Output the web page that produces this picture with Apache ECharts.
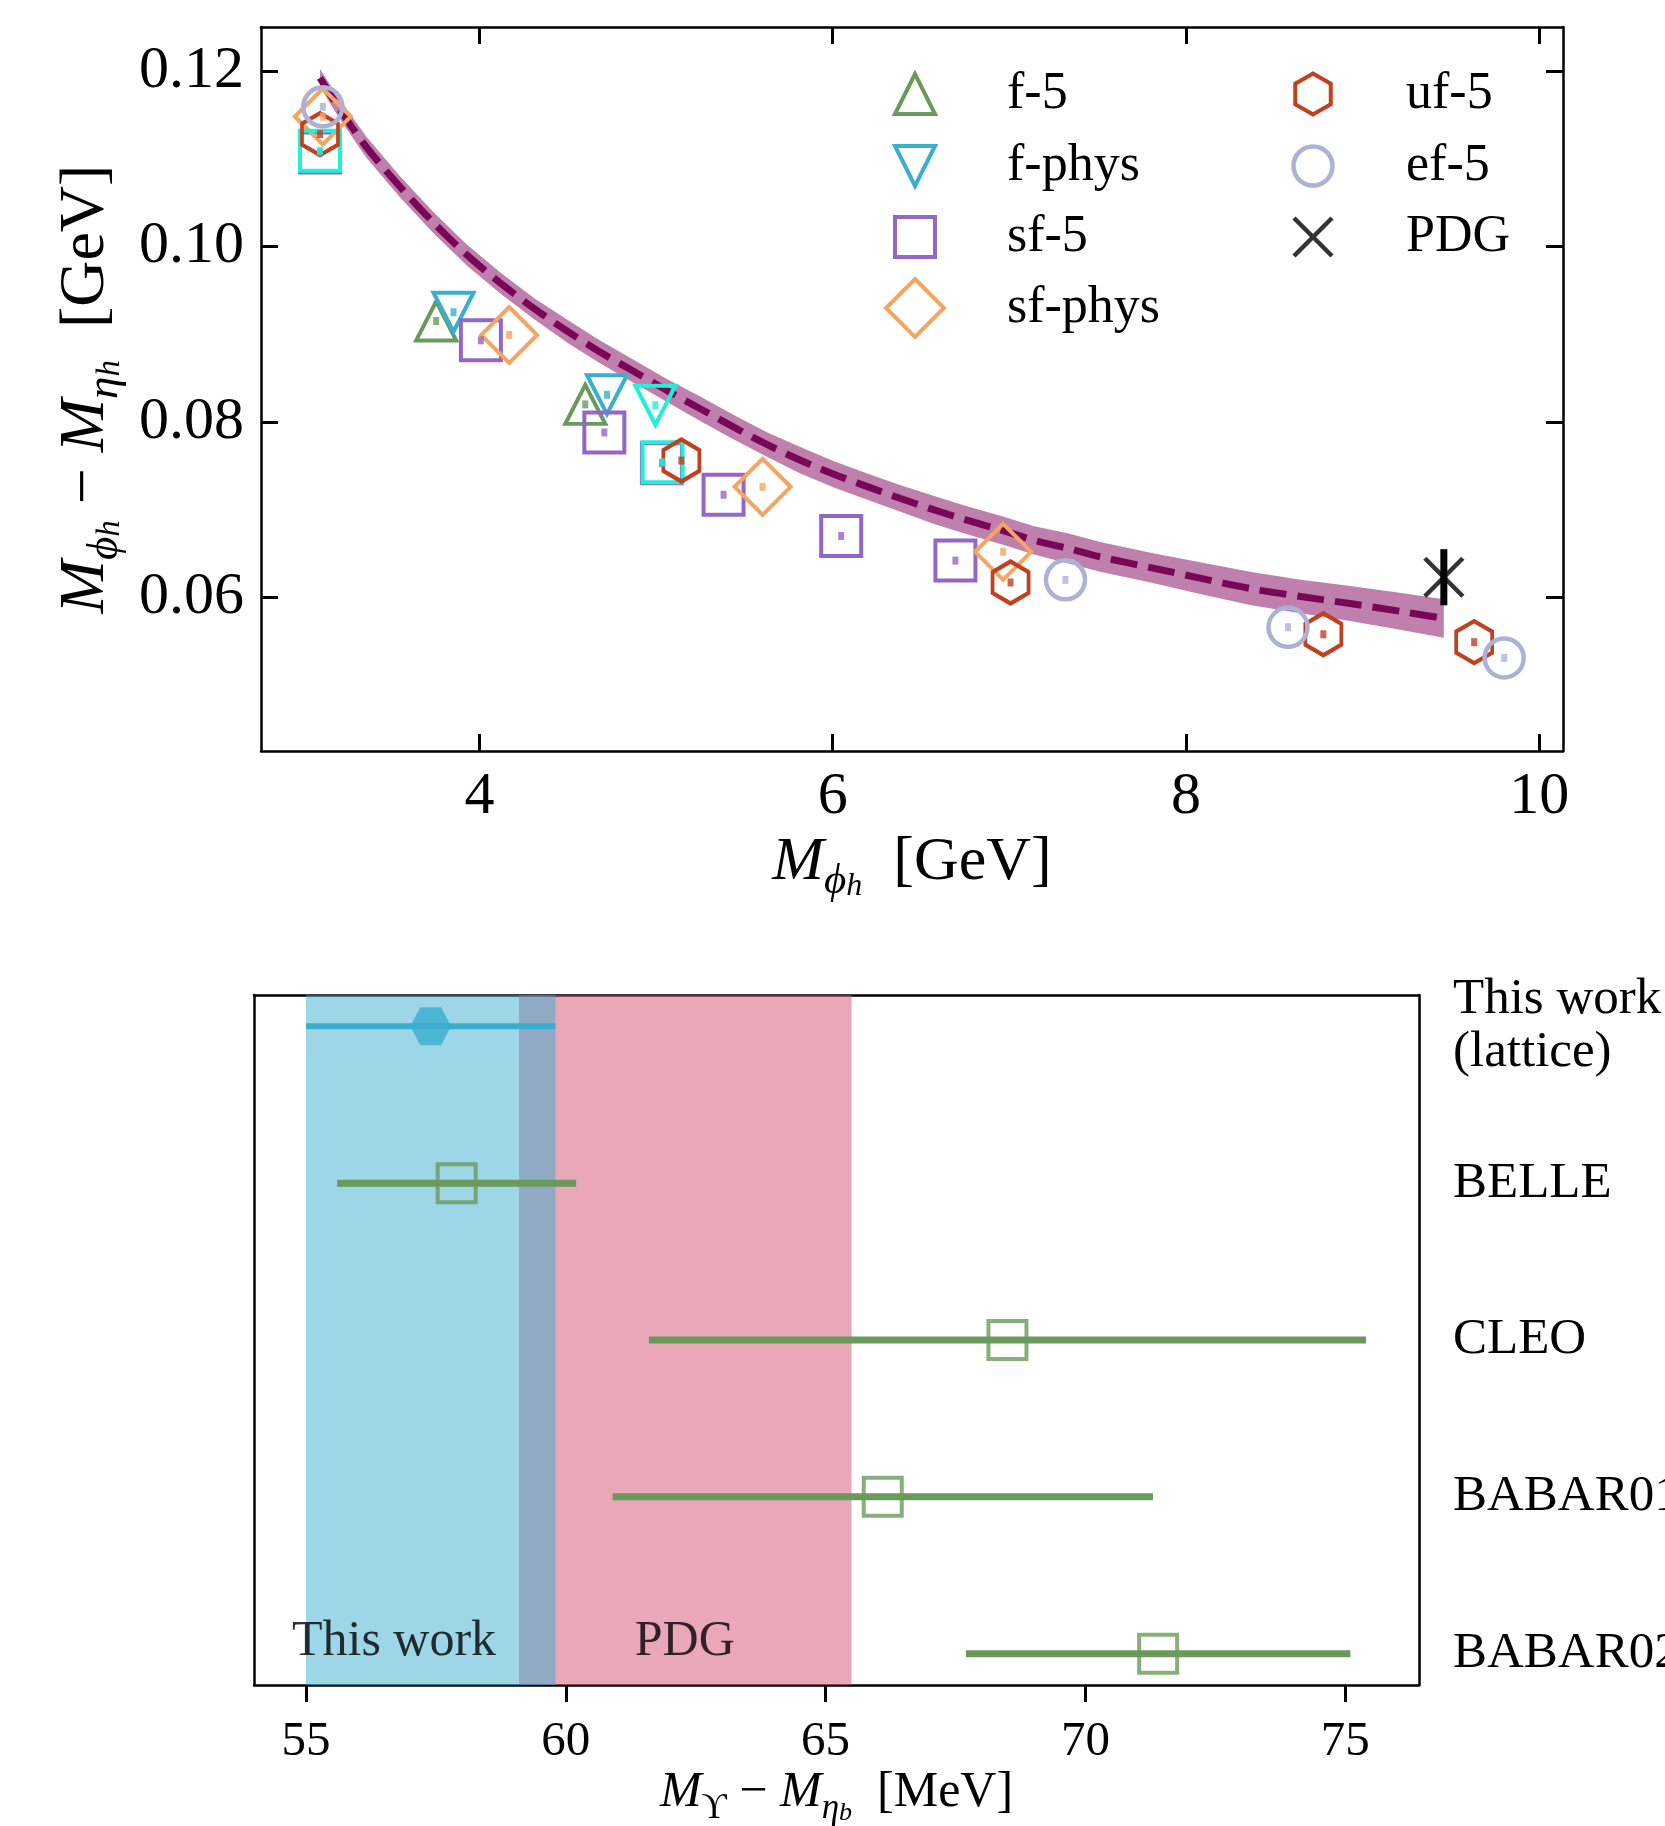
<!DOCTYPE html>
<html><head><meta charset="utf-8">
<script src="https://cdn.jsdelivr.net/npm/echarts@6/dist/echarts.min.js"></script>
<style>html,body{margin:0;padding:0;background:#fff}#c{width:1665px;height:1826px}</style>
</head><body><div id="c"></div>
<script>
// ---------------- data: top panel (GeV) ----------------
const f5      = [[3.755, 0.0915], [4.599, 0.0820]];
const fPhys   = [[3.853, 0.0925], [4.722, 0.0831]];
const sf5     = [[3.097, 0.1107], [4.008, 0.0893], [4.707, 0.0788], [5.033, 0.0753], [5.382, 0.0717], [6.048, 0.0670], [6.695, 0.0642]];
const sfPhys  = [[3.113, 0.1148], [4.168, 0.0899], [5.603, 0.0726], [6.965, 0.0652]];
const uf5     = [[3.097, 0.1128], [5.143, 0.0756], [7.007, 0.0617], [8.778, 0.0558], [9.632, 0.0549]];
const ef5     = [[3.113, 0.1159], [7.318, 0.0620], [8.578, 0.0566], [9.802, 0.0531]];
const sfExtra = [[3.097, 0.1109], [5.037, 0.0754]];
const fExtra  = [[4.996, 0.0819]];
const pdgPt   = [[9.4603, 0.0623]];
const pdgErr  = [0.0032];
const fitX   = [3.097, 3.2, 3.36, 3.55, 3.74, 3.93, 4.12, 4.31, 4.50, 4.68, 4.87, 5.06, 5.25, 5.44, 5.63, 5.82, 6.01, 6.20, 6.38, 6.57, 6.76, 6.95, 7.14, 7.33, 7.52, 7.80, 8.08, 8.37, 8.65, 8.93, 9.22, 9.46];
const fitY   = [0.1192, 0.1159, 0.1113, 0.1068, 0.1027, 0.0990, 0.0958, 0.0929, 0.0903, 0.0880, 0.0858, 0.0836, 0.0815, 0.0794, 0.0774, 0.0756, 0.0740, 0.0726, 0.0713, 0.0700, 0.0688, 0.0677, 0.0665, 0.0656, 0.0646, 0.0634, 0.0622, 0.0610, 0.0601, 0.0593, 0.0584, 0.0576];
const fitErr = [0.0010, 0.0011, 0.0012, 0.0012, 0.0012, 0.0012, 0.0012, 0.0012, 0.0013, 0.0013, 0.0013, 0.0013, 0.0014, 0.0014, 0.0014, 0.0015, 0.0015, 0.0015, 0.0015, 0.0016, 0.0016, 0.0016, 0.0016, 0.0017, 0.0017, 0.0017, 0.0018, 0.0019, 0.0019, 0.0020, 0.0021, 0.0022];
const topXTicks = [4, 6, 8, 10];
const topYTicks = [0.06, 0.08, 0.10, 0.12];

// ---------------- data: bottom panel (MeV) ----------------
const expNames   = ['This work\n(lattice)', 'BELLE', 'CLEO', 'BABAR01', 'BABAR02'];
const expCentral = [57.4, 57.9, 68.5, 66.1, 71.4];
const expLow     = [55.0, 55.6, 61.6, 60.9, 67.7];
const expHigh    = [59.8, 60.2, 75.4, 71.3, 75.1];
const thisWorkBand = [55.0, 59.8];
const pdgBand      = [59.1, 65.5];
const bottomXTicks = [55, 60, 65, 70, 75];

// ---------------- styling ----------------
const FONT = "'Liberation Serif', 'DejaVu Serif', serif";
const SYM = {
  triUp:   'path://M0,2 L1,0 L2,2 Z',
  triDown: 'path://M0,0 L2,0 L1,2 Z',
  square:  'path://M0,0 L1,0 L1,1 L0,1 Z',
  diamond: 'path://M1,0 L2,1 L1,2 L0,1 Z',
  hex:     'path://M0.866,0 L1.732,0.5 L1.732,1.5 L0.866,2 L0,1.5 L0,0.5 Z',
  hexFlat: 'path://M0.5,0 L1.5,0 L2,0.866 L1.5,1.732 L0.5,1.732 L0,0.866 Z',
  cross:   'path://M0,0 L2,2 M2,0 L0,2'
};
const topSeriesDefs = [
  {name: 'f-5',     data: f5,      color: '#6a9a5b', symbol: SYM.triUp,   size: [40, 39]},
  {name: 'f-phys',  data: fPhys,   color: '#3aaecf', symbol: SYM.triDown, size: [40, 39]},
  {name: 'sf-5',    data: sf5,     color: '#9467c6', symbol: SYM.square,  size: [40, 40]},
  {name: 'sf-phys', data: sfPhys,  color: '#f5a562', symbol: SYM.diamond, size: [56, 56]},
  {name: 'sf-5 b',  data: sfExtra, color: '#22f0d6', symbol: SYM.square,  size: [40, 40]},
  {name: 'f-phys b',data: fExtra,  color: '#22f0d6', symbol: SYM.triDown, size: [40, 39]},
  {name: 'uf-5',    data: uf5,     color: '#c0401f', symbol: SYM.hex,     size: [36, 42]},
  {name: 'ef-5',    data: ef5,     color: '#abb2d6', symbol: 'circle',    size: [39, 39]}
];

function rich(fs) {
  const s = Math.round(fs * 0.7), ss = Math.round(fs * 0.52);
  return {
    m:  {fontSize: fs, fontStyle: 'italic', fontFamily: FONT, verticalAlign: 'top', lineHeight: fs, color: '#000'},
    n:  {fontSize: fs, fontFamily: FONT, verticalAlign: 'top', lineHeight: fs, color: '#000'},
    s:  {fontSize: s, fontStyle: 'italic', fontFamily: FONT, verticalAlign: 'top', lineHeight: s, padding: [Math.round(fs * 0.45), 0, 0, 0], color: '#000'},
    u:  {fontSize: s, fontFamily: FONT, verticalAlign: 'top', lineHeight: s, padding: [Math.round(fs * 0.45), 0, 0, 0], color: '#000'},
    ss: {fontSize: ss, fontStyle: 'italic', fontFamily: FONT, verticalAlign: 'top', lineHeight: ss, padding: [Math.round(fs * 0.63), 0, 0, 0], color: '#000'}
  };
}

const series = [];
// fit band
series.push({
  type: 'custom', xAxisIndex: 0, yAxisIndex: 0, z: 1, silent: true,
  data: fitX.map((x, i) => [x, fitY[i]]),
  renderItem: function (params, api) {
    if (params.dataIndex !== 0) return null;
    const up = fitX.map((x, i) => api.coord([x, fitY[i] + fitErr[i]]));
    const lo = fitX.map((x, i) => api.coord([x, fitY[i] - fitErr[i]])).reverse();
    return {type: 'polygon', shape: {points: up.concat(lo)}, style: {fill: '#bf80ad'}};
  }
});
series.push({
  type: 'line', xAxisIndex: 0, yAxisIndex: 0, z: 2, silent: true, showSymbol: false, symbol: 'none', smooth: 0.3,
  data: fitX.map((x, i) => [x, fitY[i]]),
  lineStyle: {color: '#7a0657', width: 7, type: [27, 11]}
});
topSeriesDefs.forEach(d => {
  series.push({
    name: d.name, type: 'scatter', xAxisIndex: 0, yAxisIndex: 0, z: 3, silent: true,
    symbol: d.symbol, symbolSize: d.size, data: d.data,
    itemStyle: {color: 'rgba(0,0,0,0)', borderColor: d.color, borderWidth: d.symbol === 'circle' ? 4.5 : 4, opacity: 1}
  });
  series.push({
    name: d.name + ' pt', type: 'scatter', xAxisIndex: 0, yAxisIndex: 0, z: 4, silent: true,
    symbol: 'rect', symbolSize: [6, 8], data: d.data, itemStyle: {color: d.color}
  });
});
// PDG
series.push({
  type: 'custom', xAxisIndex: 0, yAxisIndex: 0, z: 5, silent: true,
  data: pdgPt.map((p, i) => [p[0], p[1] - pdgErr[i], p[1] + pdgErr[i]]),
  renderItem: function (params, api) {
    const a = api.coord([api.value(0), api.value(1)]);
    const b = api.coord([api.value(0), api.value(2)]);
    return {type: 'line', shape: {x1: a[0], y1: a[1], x2: b[0], y2: b[1]}, style: {stroke: '#000', lineWidth: 7}};
  }
});
series.push({
  name: 'PDG', type: 'scatter', xAxisIndex: 0, yAxisIndex: 0, z: 6, silent: true,
  symbol: SYM.cross, symbolSize: [38, 38], data: pdgPt,
  itemStyle: {color: 'rgba(0,0,0,0)', borderColor: '#000', borderWidth: 4.5}
});

// ---- bottom panel ----
series.push({
  type: 'custom', xAxisIndex: 2, yAxisIndex: 2, z: 1, silent: true,
  data: [pdgBand, thisWorkBand],
  renderItem: function (params, api) {
    const cs = params.coordSys;
    const x0 = api.coord([api.value(0), 0])[0];
    const x1 = api.coord([api.value(1), 0])[0];
    const fills = ['rgba(211,79,113,0.5)', 'rgba(58,174,207,0.5)'];
    return {type: 'rect', shape: {x: x0, y: cs.y, width: x1 - x0, height: cs.height}, style: {fill: fills[params.dataIndex]}};
  }
});
series.push({
  type: 'custom', xAxisIndex: 2, yAxisIndex: 2, z: 3, silent: true,
  data: expNames.map((n, i) => [expLow[i], expHigh[i], i]),
  renderItem: function (params, api) {
    const a = api.coord([api.value(0), api.value(2)]);
    const b = api.coord([api.value(1), api.value(2)]);
    const c = params.dataIndex === 0 ? '#3aaecf' : '#6a9a5b';
    return {type: 'line', shape: {x1: a[0], y1: a[1], x2: b[0], y2: b[1]}, style: {stroke: c, lineWidth: params.dataIndex === 0 ? 6 : 7}};
  }
});
series.push({
  type: 'scatter', xAxisIndex: 2, yAxisIndex: 2, z: 4, silent: true,
  symbol: SYM.hexFlat, symbolSize: [41, 38],
  data: [[expCentral[0], 0]], itemStyle: {color: '#3aaecf'}
});
series.push({
  type: 'scatter', xAxisIndex: 2, yAxisIndex: 2, z: 4, silent: true,
  symbol: SYM.square, symbolSize: [38, 38],
  data: expCentral.slice(1).map((v, i) => [v, i + 1]),
  itemStyle: {color: 'rgba(0,0,0,0)', borderColor: '#6a9a5b', borderWidth: 4}
});
series.push({
  type: 'scatter', xAxisIndex: 2, yAxisIndex: 2, z: 5, silent: true, symbolSize: 1,
  itemStyle: {color: 'rgba(0,0,0,0)'},
  label: {show: true, position: [0, 0], verticalAlign: 'middle', fontFamily: FONT, fontSize: 50, color: '#000'},
  data: [
    {value: [54.74, 3.93], label: {formatter: 'This work', align: 'left'}},
    {value: [62.3, 3.93], label: {formatter: 'PDG', align: 'center'}}
  ]
});

// ---- legends ----
// iw: drawn icon width incl. stroke (legend boxes are placed by their drawn bounds)
const legendSpec = [
  {name: 'f-5',     cx: 915,  cy: 90,  h: 40, iw: 44},
  {name: 'f-phys',  cx: 915,  cy: 162, h: 40, iw: 44},
  {name: 'sf-5',    cx: 915,  cy: 233, h: 40, iw: 44},
  {name: 'sf-phys', cx: 915,  cy: 304, h: 58, iw: 62},
  {name: 'uf-5',    cx: 1313, cy: 90,  h: 41, iw: 39.5},
  {name: 'ef-5',    cx: 1313, cy: 162, h: 39, iw: 43.5},
  {name: 'PDG',     cx: 1313, cy: 233, h: 38, iw: 42.5}
];
const legends = legendSpec.map(l => {
  const textLeft = l.cx < 1000 ? 1007 : 1406;
  const W = 2 * (textLeft - 5 - l.cx);
  const bw = l.name === 'PDG' || l.name === 'ef-5' ? 4.5 : 4;
  return {
    data: [l.name], left: l.cx - l.iw / 2, top: l.cy - 28,
    itemWidth: W, itemHeight: l.h, padding: 0, itemGap: 0, selectedMode: false,
    symbolKeepAspect: true,
    itemStyle: {borderWidth: bw},
    textStyle: {fontFamily: FONT, fontSize: 52, lineHeight: 52, color: '#000', padding: [12, 0, 0, 0]}
  };
});

const axLine = {show: true, onZero: false, lineStyle: {color: '#000', width: 2.5}};
const option = {
  animation: false,
  backgroundColor: '#fff',
  legend: legends,
  grid: [
    {left: 261, right: 102, top: 27, bottom: 1075, containLabel: false, outerBoundsMode: 'none'},
    {left: 254, right: 246, top: 995, bottom: 141, containLabel: false, outerBoundsMode: 'none'}
  ],
  xAxis: [
    {gridIndex: 0, type: 'value', min: 2.763, max: 10.135, position: 'bottom',
     axisLine: axLine, splitLine: {show: false},
     axisTick: {show: true, inside: true, length: 17, lineStyle: {width: 3, color: '#000'}, customValues: topXTicks},
     axisLabel: {show: true, customValues: topXTicks, formatter: v => String(v), fontFamily: FONT, fontSize: 60, color: '#000', margin: 16},
     name: '{m|M}{s|ϕ}{ss|h}{n|  [GeV]}', nameLocation: 'middle', nameGap: 81,
     nameTextStyle: {rich: rich(62)}},
    {gridIndex: 0, type: 'value', min: 2.763, max: 10.135, position: 'top',
     axisLine: axLine, splitLine: {show: false},
     axisTick: {show: true, inside: true, length: 17, lineStyle: {width: 3, color: '#000'}, customValues: topXTicks},
     axisLabel: {show: false}},
    {gridIndex: 1, type: 'value', min: 54.0, max: 76.42, position: 'bottom',
     axisLine: axLine, splitLine: {show: false},
     axisTick: {show: true, inside: false, length: 17, lineStyle: {width: 3, color: '#000'}, customValues: bottomXTicks},
     axisLabel: {show: true, customValues: bottomXTicks, formatter: v => String(v), fontFamily: FONT, fontSize: 49, color: '#000', margin: 33},
     name: '{m|M}{u|ϒ}{n| − }{m|M}{s|η}{ss|b}{n|  [MeV]}', nameLocation: 'middle', nameGap: 83,
     nameTextStyle: {rich: rich(50)}},
    {gridIndex: 1, type: 'value', min: 54.0, max: 76.42, position: 'top',
     axisLine: axLine, splitLine: {show: false}, axisTick: {show: false}, axisLabel: {show: false}}
  ],
  yAxis: [
    {gridIndex: 0, type: 'value', min: 0.0425, max: 0.1250, position: 'left',
     axisLine: axLine, splitLine: {show: false},
     axisTick: {show: true, inside: true, length: 17, lineStyle: {width: 3, color: '#000'}, customValues: topYTicks},
     axisLabel: {show: true, customValues: topYTicks, formatter: v => v.toFixed(2), fontFamily: FONT, fontSize: 60, color: '#000', margin: 17},
     name: '{m|M}{s|ϕ}{ss|h}{n| − }{m|M}{s|η}{ss|h}{n|  [GeV]}', nameLocation: 'middle', nameGap: 142,
     nameTextStyle: {rich: rich(64)}},
    {gridIndex: 0, type: 'value', min: 0.0425, max: 0.1250, position: 'right',
     axisLine: axLine, splitLine: {show: false},
     axisTick: {show: true, inside: true, length: 17, lineStyle: {width: 3, color: '#000'}, customValues: topYTicks},
     axisLabel: {show: false}},
    {gridIndex: 1, type: 'value', min: -0.2, max: 4.2, inverse: true, position: 'left',
     axisLine: axLine, splitLine: {show: false}, axisTick: {show: false}, axisLabel: {show: false}},
    {gridIndex: 1, type: 'value', min: -0.2, max: 4.2, inverse: true, position: 'right',
     axisLine: axLine, splitLine: {show: false}, axisTick: {show: false},
     axisLabel: {show: true, customValues: [0, 1, 2, 3, 4], formatter: v => expNames[Math.round(v)],
       fontFamily: FONT, fontSize: 51, lineHeight: 53, color: '#000', margin: 34, align: 'left'}}
  ],
  series: series
};
const chart = echarts.init(document.getElementById('c'), null, {renderer: 'canvas', width: 1665, height: 1826});
chart.setOption(option);
</script>
</body></html>
